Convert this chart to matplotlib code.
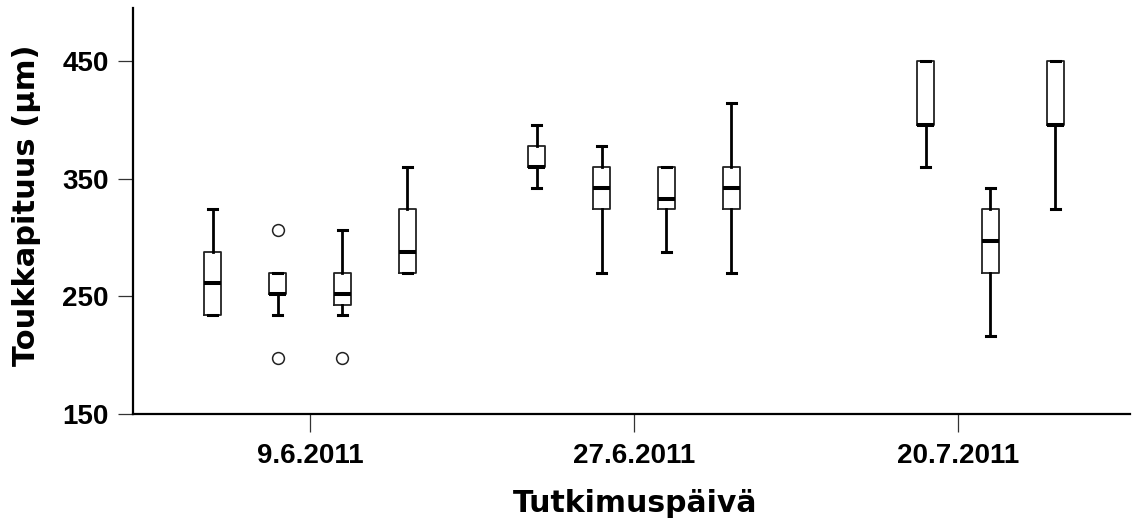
import matplotlib
matplotlib.use("Agg")
import matplotlib.pyplot as plt

# Sampling dates on the x axis
dates = ["9.6.2011", "27.6.2011", "20.7.2011"]

# Per-box statistics (µm); each box is (date index, slot within date)
box_date = [0, 0, 0, 0, 1, 1, 1, 1, 2, 2, 2]
box_slot = [0, 1, 2, 3, 0, 1, 2, 3, 1, 2, 3]
whisker_low = [234, 234, 234, 270, 342, 270, 288, 270, 360, 216, 324]
quartile_1 = [234, 252, 243, 270, 360, 324, 324, 324, 396, 270, 396]
median = [261, 252, 252, 288, 360, 342, 333, 342, 396, 297, 396]
quartile_3 = [288, 270, 270, 324, 378, 360, 360, 360, 450, 324, 450]
whisker_high = [324, 270, 306, 360, 396, 378, 360, 414, 450, 342, 450]
outliers = [[], [198, 306], [198], [], [], [], [], [], [], [], []]

y_ticks = [150, 250, 350, 450]

slot_step = 0.2
stats = []
positions = []
for i in range(len(median)):
    stats.append(dict(whislo=whisker_low[i], q1=quartile_1[i], med=median[i],
                      q3=quartile_3[i], whishi=whisker_high[i],
                      fliers=outliers[i]))
    positions.append(box_date[i] + (box_slot[i] - 1.5) * slot_step)

fig = plt.figure(figsize=(11.37, 5.29), dpi=100)
ax = fig.add_axes([133 / 1137, 1 - 414 / 529, 997 / 1137, (414 - 8) / 529])

ax.bxp(stats, positions=positions, widths=0.053, capwidths=0.028,
       showfliers=True, manage_ticks=False,
       boxprops=dict(color="#222222", linewidth=1.3),
       whiskerprops=dict(color="black", linewidth=2.0),
       capprops=dict(color="black", linewidth=2.2),
       medianprops=dict(color="black", linewidth=2.9, solid_capstyle="butt"),
       flierprops=dict(marker="o", markersize=8.5, markerfacecolor="white",
                       markeredgecolor="#222222", markeredgewidth=1.1,
                       linestyle="none"))

ax.set_xlim(-0.546, 2.531)
ax.set_ylim(150, 495)
ax.set_xticks(range(len(dates)))
ax.set_xticklabels(dates)
ax.set_yticks(y_ticks)

for side in ("top", "right"):
    ax.spines[side].set_visible(False)
for side in ("left", "bottom"):
    ax.spines[side].set_linewidth(1.6)
    ax.spines[side].set_color("black")

ax.tick_params(axis="x", length=13, width=0.9, pad=8, labelsize=20,
               color="#333333")
ax.tick_params(axis="y", length=10.5, width=0.9, pad=7, labelsize=20,
               color="#333333")
for lab in ax.get_xticklabels() + ax.get_yticklabels():
    lab.set_family("Liberation Sans")
    lab.set_fontweight("bold")

fig.text(27 / 1137, 1 - 205 / 529, "Toukkapituus (µm)", rotation=90,
         ha="center", va="center", fontsize=22, fontweight="bold",
         family="DejaVu Sans")
fig.text(635 / 1137, 1 - 512 / 529, "Tutkimuspäivä", ha="center",
         va="baseline", fontsize=21.5, fontweight="bold",
         family="DejaVu Sans")

fig.savefig("out.png", dpi=100)
